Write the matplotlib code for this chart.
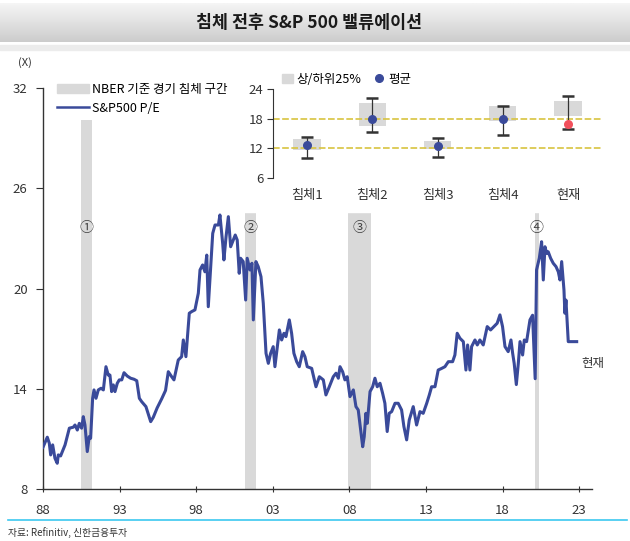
import numpy as np
import matplotlib.pyplot as plt
from matplotlib.patches import Rectangle, Patch
from matplotlib.lines import Line2D

plt.rcParams['font.family'] = ['Noto Sans CJK KR', 'DejaVu Sans']

# S&P500 forward P/E
years = [1988.00, 1988.28, 1988.41, 1988.50, 1988.63, 1988.78, 1988.93, 1989.00, 1989.15, 1989.44,
         1989.72, 1989.98, 1990.09, 1990.24, 1990.37, 1990.52, 1990.63, 1990.74, 1990.89, 1991.02,
         1991.11, 1991.24, 1991.33, 1991.46, 1991.61, 1991.79, 1991.94, 1992.11, 1992.26, 1992.37,
         1992.48, 1992.59, 1992.70, 1992.85, 1992.98, 1993.14, 1993.29, 1993.50, 1993.72, 1993.94,
         1994.12, 1994.29, 1994.44, 1994.72, 1995.03, 1995.20, 1995.45, 1995.75, 1996.00, 1996.18,
         1996.40, 1996.55, 1996.83, 1997.05, 1997.16, 1997.33, 1997.55, 1997.71, 1997.92, 1998.14,
         1998.25, 1998.42, 1998.57, 1998.69, 1998.79, 1998.95, 1999.08, 1999.23, 1999.45, 1999.55,
         1999.73, 1999.81, 1999.95, 2000.10, 2000.25, 2000.42, 2000.55, 2000.68, 2000.81, 2000.90,
         2001.07, 2001.23, 2001.33, 2001.51, 2001.64, 2001.73, 2001.90, 2002.05, 2002.23, 2002.38,
         2002.56, 2002.71, 2002.86, 2003.03, 2003.14, 2003.43, 2003.58, 2003.73, 2003.86, 2004.08,
         2004.23, 2004.38, 2004.56, 2004.73, 2004.95, 2005.10, 2005.25, 2005.54, 2005.82, 2006.04,
         2006.30, 2006.47, 2006.69, 2006.95, 2007.13, 2007.28, 2007.39, 2007.56, 2007.71, 2007.86,
         2008.04, 2008.26, 2008.43, 2008.58, 2008.74, 2008.87, 2008.97, 2009.08, 2009.17, 2009.35,
         2009.52, 2009.67, 2009.82, 2010.00, 2010.17, 2010.32, 2010.47, 2010.60, 2010.76, 2010.98,
         2011.19, 2011.41, 2011.56, 2011.74, 2011.91, 2012.17, 2012.39, 2012.61, 2012.82, 2013.05,
         2013.22, 2013.37, 2013.59, 2013.80, 2014.03, 2014.24, 2014.46, 2014.74, 2014.89, 2015.04,
         2015.22, 2015.44, 2015.61, 2015.72, 2015.87, 2015.98, 2016.20, 2016.35, 2016.52, 2016.74,
         2017.00, 2017.22, 2017.44, 2017.65, 2017.83, 2018.00, 2018.16, 2018.37, 2018.55, 2018.66,
         2018.76, 2018.90, 2019.03, 2019.14, 2019.31, 2019.42, 2019.57, 2019.79, 2019.96, 2020.13,
         2020.22, 2020.40, 2020.55, 2020.66, 2020.77, 2020.88, 2020.98, 2021.14, 2021.31, 2021.49,
         2021.64, 2021.75, 2021.86, 2022.01, 2022.07, 2022.14, 2022.29, 2022.84]
pe = [10.50, 11.10, 10.74, 10.04, 10.64, 9.84, 9.54, 10.04, 9.98, 10.64,
      11.64, 11.70, 11.83, 11.53, 11.93, 11.64, 12.33, 11.83, 10.24, 11.14,
      11.04, 13.43, 13.93, 13.43, 13.93, 14.03, 13.93, 15.32, 14.82, 14.82,
      13.83, 14.23, 13.83, 14.33, 14.53, 14.53, 14.96, 14.76, 14.63, 14.57,
      14.48, 13.43, 13.23, 12.93, 12.03, 12.29, 12.85, 13.40, 13.90, 15.02,
      14.72, 14.53, 15.72, 15.92, 16.92, 15.92, 18.52, 18.62, 18.72, 19.72,
      21.11, 21.41, 21.00, 22.00, 18.91, 21.31, 23.30, 23.80, 23.80, 24.40,
      22.70, 21.71, 23.10, 24.30, 22.50, 22.90, 23.20, 22.90, 20.91, 21.81,
      21.61, 19.31, 21.81, 21.11, 21.51, 18.12, 21.61, 21.31, 20.71, 19.12,
      16.12, 15.52, 16.12, 16.52, 15.32, 17.52, 16.92, 17.32, 17.12, 18.12,
      17.32, 16.12, 15.62, 15.32, 16.22, 15.92, 15.32, 15.22, 14.12, 14.72,
      14.53, 13.63, 14.12, 14.72, 14.93, 14.63, 15.32, 15.02, 14.53, 14.72,
      13.53, 13.93, 12.93, 12.73, 11.53, 10.53, 11.13, 12.53, 11.93, 13.83,
      14.12, 14.63, 14.12, 14.33, 13.73, 13.13, 11.44, 12.53, 12.63, 13.13,
      13.13, 12.73, 11.74, 10.94, 12.13, 12.93, 11.83, 12.63, 12.53, 13.13,
      13.63, 14.12, 14.12, 15.12, 15.22, 15.32, 15.62, 15.62, 16.02, 17.32,
      17.02, 16.82, 15.12, 16.62, 15.12, 16.52, 16.92, 16.62, 16.92, 16.62,
      17.72, 17.52, 17.72, 17.92, 18.42, 17.72, 16.52, 16.22, 16.92, 16.12,
      15.52, 14.25, 15.52, 16.82, 16.02, 16.92, 16.82, 18.12, 18.40, 14.60,
      21.11, 21.81, 22.80, 20.51, 22.50, 22.10, 22.20, 21.81, 21.51, 21.31,
      21.00, 20.51, 21.61, 19.91, 18.52, 19.31, 16.82, 16.82]

# NBER recessions
rec_start = [1990.5, 2001.2, 2007.9, 2020.1]
rec_end = [1991.2, 2001.9, 2009.4, 2020.35]
rec_marks = ['①', '②', '③', '④']

# inset: P/E distribution around each recession
cats = ['침체1', '침체2', '침체3', '침체4', '현재']
q_low = [11.7, 16.6, 11.9, 17.6, 18.5]
q_high = [13.9, 21.2, 13.5, 20.5, 21.6]
w_low = [10.1, 15.4, 10.2, 14.7, 15.9]
w_high = [14.2, 22.1, 14.0, 20.6, 22.6]
avg = [12.7, 17.9, 12.5, 17.9, 16.9]
ref_lines = [18, 12]

W, H = 630, 541
navy = '#3a4a9a'
grey_bar = '#d9d9d9'
fig = plt.figure(figsize=(W / 100, H / 100), dpi=100)

# title banner
axb = fig.add_axes([0, 1 - 42 / H, 1, 39 / H])
grad = np.linspace(0.96, 0.80, 60)[:, None] * np.ones((1, 2))
axb.imshow(grad, cmap='gray', vmin=0, vmax=1, aspect='auto', extent=[0, 1, 0, 1])
axb.set_xlim(0, 1); axb.set_ylim(0, 1); axb.axis('off')
axb.text(0.49, 0.5, '침체 전후 S&P 500 밸류에이션', ha='center', va='center',
         fontsize=12.5, fontweight='bold', color='#1a1a1a')
fig.patches.append(Rectangle((0, 1 - 50 / H), 1, 5 / H, transform=fig.transFigure,
                             color='#ececec', zorder=0))

# main chart
ax = fig.add_axes([43 / W, 1 - 489 / H, (592 - 43) / W, (489 - 88) / H])
for s, e, m in zip(rec_start, rec_end, rec_marks):
    ax.axvspan(s, e, color=grey_bar, lw=0, zorder=1)
    ax.text((s + e) / 2, 23.6, m, ha='center', va='center', fontsize=10, color='#444444', zorder=4)
ax.plot(years, pe, color=navy, lw=2.2, zorder=3, solid_joinstyle='round')
ax.set_xlim(1988, 2023.84)
ax.set_ylim(8, 32)
ax.set_yticks([8, 14, 20, 26, 32])
ax.set_xticks([1988, 1993, 1998, 2003, 2008, 2013, 2018, 2023])
ax.set_xticklabels(['88', '93', '98', '03', '08', '13', '18', '23'])
for sp in ['top', 'right']:
    ax.spines[sp].set_visible(False)
for sp in ['left', 'bottom']:
    ax.spines[sp].set_color('#333333')
    ax.spines[sp].set_linewidth(1.0)
ax.tick_params(axis='y', length=5, pad=6, labelsize=9.5, colors='#333333')
ax.tick_params(axis='x', direction='inout', length=5, pad=8, labelsize=9.5, colors='#333333')
ax.text(2023.9, 15.5, '현재', ha='center', va='center', fontsize=9, color='#333333', clip_on=False)
fig.text(18 / W, 1 - 63 / H, '(X)', ha='left', va='center', fontsize=8, color='#333333')

leg = ax.legend(handles=[Patch(color=grey_bar, label='NBER 기준 경기 침체 구간'),
                         Line2D([], [], color=navy, lw=1.8, label='S&P500 P/E')],
                loc='upper left', bbox_to_anchor=(0.005, 1.04), fontsize=9,
                frameon=True, facecolor='white', edgecolor='none', framealpha=1,
                handlelength=2.6, handletextpad=0.2, labelspacing=0.45, borderpad=0.4)
leg.set_zorder(5)

# inset
axi = fig.add_axes([273 / W, 1 - 178 / H, (602 - 273) / W, (178 - 89) / H])
axi.add_patch(Rectangle((238 / W, 1 - 212 / H), (612 - 238) / W, (212 - 68) / H,
                        transform=fig.transFigure, color='white', zorder=-1, clip_on=False))
x = np.arange(len(cats))
qlo, qhi = np.array(q_low), np.array(q_high)
axi.bar(x, qhi - qlo, bottom=qlo, width=0.42, color=grey_bar, zorder=1)
for y in ref_lines:
    axi.axhline(y, color='#d8c440', lw=1.2, ls=(0, (4, 1.5)), zorder=2)
mv = np.array(avg)
axi.errorbar(x, mv, yerr=[mv - np.array(w_low), np.array(w_high) - mv], fmt='none',
             ecolor='#333333', elinewidth=0.9, capsize=4, capthick=1.8, zorder=3)
axi.scatter(x[:-1], mv[:-1], s=30, color=navy, zorder=4)
axi.scatter(x[-1:], mv[-1:], s=30, color='#f2505c', zorder=4)
axi.set_xlim(-0.52, 4.52)
axi.set_ylim(6, 24)
axi.set_yticks([6, 12, 18, 24])
axi.set_xticks(x)
axi.set_xticklabels(cats)
for sp in ['top', 'right', 'bottom']:
    axi.spines[sp].set_visible(False)
axi.spines['left'].set_color('#333333')
axi.tick_params(axis='y', length=4, pad=3, labelsize=9.5, colors='#333333')
axi.tick_params(axis='x', length=0, pad=8, labelsize=9.5, colors='#333333')
axi.legend(handles=[Patch(color=grey_bar, label='상/하위25%'),
                    Line2D([], [], ls='none', marker='o', ms=5.5, color=navy, label='평균')],
           loc='lower left', bbox_to_anchor=(0.0, 0.94), ncol=2, fontsize=9, frameon=False,
           handlelength=0.9, handletextpad=0.3, columnspacing=0.9, borderpad=0.2)

# footer
fig.add_artist(Line2D([8 / W, 627 / W], [1 - 520 / H, 1 - 520 / H], color='#3cc8f0', lw=1.2))
fig.text(8 / W, 1 - 533 / H, '자료: Refinitiv, 신한금융투자', ha='left', va='center',
         fontsize=7, color='#333333')

fig.savefig('out.png', dpi=100)
